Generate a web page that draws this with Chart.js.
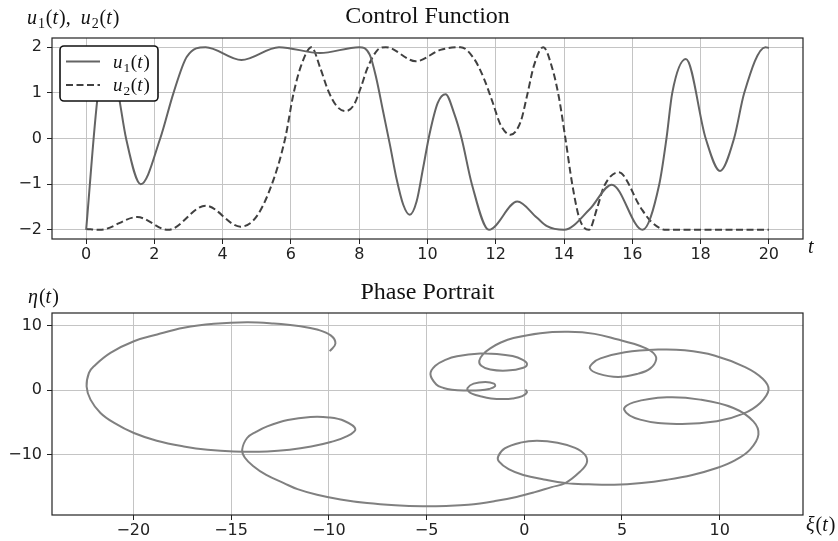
<!DOCTYPE html>
<html><head><meta charset="utf-8">
<script src="https://cdn.jsdelivr.net/npm/chart.js@4.4.0/dist/chart.umd.min.js"></script>
<style>
html,body{margin:0;padding:0;background:#fff;width:838px;height:541px;overflow:hidden}
#c1{position:absolute;left:0;top:0}
#c2{position:absolute;left:0;top:270px}
</style></head><body>
<canvas id="c1" width="838" height="270"></canvas>
<canvas id="c2" width="838" height="271"></canvas>
<script>
// ---- data ----
const u1T = [0, 0.35, 0.65, 0.94, 1.17, 1.6, 2.17, 2.56, 2.95, 3.5, 4.55, 5.65, 6.85, 8.0, 8.31, 8.5, 8.7, 8.9, 9.09, 9.29, 9.48, 9.68, 9.87, 10.06, 10.3, 10.53, 10.78, 11.0, 11.3, 11.8, 12.63, 13.2, 13.5, 14.0, 14.75, 15.4, 16.3, 16.79, 17.0, 17.17, 17.57, 18.15, 18.57, 18.98, 19.28, 19.9, 20.0];
const u1 = [-2, 1.0, 2.0, 1.0, 0, -1.0, 0, 1.0, 1.79, 2.0, 1.72, 2.0, 1.87, 2.0, 1.83, 1.32, 0.59, -0.14, -0.87, -1.45, -1.67, -1.38, -0.65, 0.1, 0.78, 0.97, 0.55, 0, -1.0, -2.0, -1.38, -1.73, -1.92, -2.0, -1.55, -1.01, -2.0, -1.0, 0, 1.0, 1.74, 0, -0.71, 0, 1.0, 2.0, 1.98];
const u2T = [0, 0.4, 1.5, 2.4, 3.5, 4.52, 5.0, 5.49, 5.83, 6.08, 6.3, 6.6, 6.86, 7.1, 7.35, 7.6, 7.84, 8.04, 8.24, 8.54, 8.78, 9.66, 10.38, 10.97, 11.36, 11.65, 11.9, 12.14, 12.43, 12.73, 12.92, 13.12, 13.39, 13.65, 13.85, 14.04, 14.24, 14.45, 14.73, 14.97, 15.17, 15.6, 16.25, 16.54, 16.98, 20.0];
const u2 = [-1.98, -2.0, -1.72, -2.0, -1.47, -1.93, -1.7, -0.9, 0, 1.0, 1.6, 2.0, 1.54, 1.03, 0.7, 0.6, 0.73, 1.1, 1.54, 1.94, 2.0, 1.69, 1.94, 2.0, 1.75, 1.32, 0.81, 0.3, 0.08, 0.37, 0.95, 1.6, 2.0, 1.55, 0.9, 0, -1.0, -1.75, -2.0, -1.52, -1.05, -0.74, -1.52, -1.81, -2.0, -2.0];
const xiVals = [0.05, 0.14, -0.1, -0.6, -1.06, -1.7, -2.25, -2.65, -2.85, -2.9, -2.59, -1.99, -1.55, -1.5, -1.8, -2.25, -3.1, -3.7, -4.13, -4.5, -4.8, -4.55, -4.0, -3.44, -2.25, -1.4, -0.6, -0.1, 0.14, -0.05, -0.88, -1.74, -2.2, -2.3, -2.1, -1.74, -1.2, -0.55, 0.82, 2.25, 3.6, 4.8, 5.6, 6.17, 6.6, 6.75, 6.45, 5.83, 4.8, 3.78, 3.36, 3.5, 3.9, 5.15, 6.85, 8.21, 9.72, 11.3, 12.2, 12.5, 12.07, 11.21, 9.85, 7.8, 5.93, 5.11, 5.59, 7.3, 9.0, 10.7, 11.72, 11.98, 11.55, 10.8, 9.85, 8.6, 7.3, 6.0, 4.6, 3.3, 2.1, 1.0, -0.05, -0.8, -1.3, -1.33, -1.0, -0.2, 0.65, 1.7, 2.6, 3.1, 3.2, 2.85, 2.1, 1.4, 0.5, -0.4, -1.5, -2.86, -4.0, -5.2, -6.6, -8.04, -9.4, -10.6, -11.6, -12.3, -13.2, -13.84, -14.3, -14.43, -14.18, -13.7, -13.15, -12.1, -10.94, -10.0, -9.2, -8.64, -9.06, -9.9, -10.9, -12.0, -13.15, -14.86, -16.2, -17.42, -18.8, -19.97, -21.0, -21.68, -22.19, -22.39, -22.27, -22.02, -21.17, -19.97, -18.78, -17.42, -15.88, -14.18, -12.82, -11.45, -10.6, -9.9, -9.66, -9.95];
const etaVals = [0.1, -0.3, -0.9, -1.25, -1.34, -1.25, -0.92, -0.55, -0.15, 0.37, 1.04, 1.3, 1.05, 0.6, 0.2, 0.0, -0.02, 0.1, 0.37, 0.9, 2.5, 3.8, 4.75, 5.27, 5.69, 5.64, 5.3, 4.75, 4.1, 3.5, 3.05, 3.21, 3.8, 4.6, 5.6, 6.5, 7.4, 8.1, 8.85, 9.05, 8.74, 7.86, 7.2, 6.57, 5.8, 4.8, 3.4, 2.59, 2.07, 2.59, 3.4, 4.2, 4.95, 5.9, 6.31, 6.2, 5.4, 3.6, 1.8, 0.1, -1.95, -3.61, -4.8, -5.2, -4.54, -2.99, -1.86, -1.08, -1.44, -2.73, -4.8, -6.87, -9.19, -10.8, -12.03, -13.1, -13.84, -14.35, -14.62, -14.55, -14.36, -13.8, -13.1, -12.2, -11.0, -10.2, -9.0, -8.1, -7.8, -8.1, -8.9, -9.97, -11.2, -12.6, -14.36, -14.98, -15.8, -16.5, -17.15, -17.72, -17.9, -17.95, -17.8, -17.46, -16.9, -16.17, -15.3, -14.36, -13.1, -11.78, -10.4, -9.19, -7.38, -6.4, -5.58, -4.6, -4.13, -4.2, -4.75, -6.0, -7.1, -8.0, -8.7, -9.2, -9.46, -9.46, -9.2, -8.68, -7.8, -6.61, -5.0, -3.5, -1.44, 0.62, 2.7, 3.72, 5.8, 7.6, 8.64, 9.67, 10.29, 10.55, 10.35, 9.92, 9.41, 8.5, 7.24, 6.05];
const ctrlXTicks = [0, 2, 4, 6, 8, 10, 12, 14, 16, 18, 20];
const ctrlYTicks = [-2, -1, 0, 1, 2];
const phaseXTicks = [-20, -15, -10, -5, 0, 5, 10];
const phaseYTicks = [-10, 0, 10];

// ---- helpers ----
const fmt = v => (v < 0 ? '\u2212' + Math.abs(v) : String(v));
const SERIF = '"Liberation Serif", "DejaVu Serif", serif';
function mathText(ctx, x, y, parts, size) {
  let cx = x;
  for (const [t, st] of parts) {
    const fs = st === 's' ? size * 0.7 : size;
    ctx.font = (st === 'i' ? 'italic ' : '') + fs + 'px ' + SERIF;
    const dy = st === 's' ? size * 0.22 : 0;
    ctx.fillText(t, cx, y + dy);
    cx += ctx.measureText(t).width + (st === 'i' ? size * 0.05 : 0) + (st === 's' ? size * 0.04 : 0);
  }
}
function axis(min, max, ticks, fit, isX) {
  return {
    type: 'linear', min, max,
    afterBuildTicks: s => { s.ticks = ticks.map(v => ({ value: v })); },
    afterFit: s => { if (isX) s.height = fit; else s.width = fit; },
    grid: { color: '#c4c4c4', lineWidth: 1, tickLength: 5, tickColor: '#222', drawTicks: true },
    border: { display: false },
    ticks: { font: { family: 'DejaVu Sans', size: 16 }, color: '#222', padding: isX ? 1 : 5,
             maxRotation: 0, autoSkip: false, callback: v => fmt(v) }
  };
}
function decorPlugin(draw) {
  return { id: 'decor', afterDraw(chart) {
    const ctx = chart.ctx, a = chart.chartArea;
    ctx.save();
    ctx.strokeStyle = '#222'; ctx.lineWidth = 1.2;
    ctx.strokeRect(a.left, a.top, a.right - a.left, a.bottom - a.top);
    ctx.fillStyle = '#111'; ctx.textBaseline = 'alphabetic'; ctx.textAlign = 'left';
    draw(ctx, a, chart);
    ctx.restore();
  } };
}

// ---- Control Function ----
new Chart(document.getElementById('c1'), {
  type: 'line',
  data: { datasets: [
    { label: 'u1(t)', data: u1T.map((t, i) => ({ x: t, y: u1[i] })), borderColor: '#646464',
      borderWidth: 2, pointRadius: 0, cubicInterpolationMode: 'monotone', fill: false },
    { label: 'u2(t)', data: u2T.map((t, i) => ({ x: t, y: u2[i] })), borderColor: '#404040',
      borderWidth: 2, borderDash: [7, 3.5], pointRadius: 0, cubicInterpolationMode: 'monotone', fill: false }
  ] },
  options: {
    responsive: false, animation: false, devicePixelRatio: 1,
    layout: { padding: { left: 0, right: 35, top: 38, bottom: 0 } },
    plugins: { legend: { display: false }, tooltip: { enabled: false } },
    scales: { x: axis(-1, 21, ctrlXTicks, 31, true), y: axis(-2.2, 2.2, ctrlYTicks, 52, false) }
  },
  plugins: [decorPlugin((ctx, a, chart) => {
    ctx.font = '24px ' + SERIF; ctx.textAlign = 'center';
    ctx.fillText('Control Function', (a.left + a.right) / 2, 23);
    ctx.textAlign = 'left';
    mathText(ctx, 27, 24, [['u', 'i'], ['1', 's'], ['(', 'r'], ['t', 'i'], ['),', 'r'], ['\u2002', 'r'], ['u', 'i'], ['2', 's'], ['(', 'r'], ['t', 'i'], [')', 'r']], 20);
    mathText(ctx, 808, 253, [['t', 'i']], 20);
    // legend
    const lx = 60, ly = 46, lw = 98, lh = 55, r = 4;
    ctx.beginPath();
    ctx.moveTo(lx + r, ly); ctx.arcTo(lx + lw, ly, lx + lw, ly + lh, r); ctx.arcTo(lx + lw, ly + lh, lx, ly + lh, r);
    ctx.arcTo(lx, ly + lh, lx, ly, r); ctx.arcTo(lx, ly, lx + lw, ly, r); ctx.closePath();
    ctx.fillStyle = '#fff'; ctx.fill(); ctx.strokeStyle = '#111'; ctx.lineWidth = 1.6; ctx.stroke();
    const rows = [61.5, 85];
    chart.data.datasets.forEach((ds, i) => {
      ctx.beginPath(); ctx.strokeStyle = ds.borderColor; ctx.lineWidth = ds.borderWidth;
      ctx.setLineDash(ds.borderDash || []); ctx.moveTo(66, rows[i]); ctx.lineTo(100, rows[i]); ctx.stroke();
      ctx.setLineDash([]);
      ctx.fillStyle = '#111';
      mathText(ctx, 113, rows[i] + 6, [['u', 'i'], [String(i + 1), 's'], ['(', 'r'], ['t', 'i'], [')', 'r']], 19);
    });
  })]
});

// ---- Phase Portrait ----
new Chart(document.getElementById('c2'), {
  type: 'line',
  data: { datasets: [
    { label: 'phase', data: xiVals.map((x, i) => ({ x, y: etaVals[i] })), borderColor: '#808080',
      borderWidth: 2, pointRadius: 0, tension: 0.4, fill: false }
  ] },
  options: {
    responsive: false, animation: false, devicePixelRatio: 1,
    layout: { padding: { left: 0, right: 35, top: 43, bottom: 0 } },
    plugins: { legend: { display: false }, tooltip: { enabled: false } },
    scales: { x: axis(-24.16, 14.26, phaseXTicks, 26, true), y: axis(-19.3, 11.97, phaseYTicks, 52, false) }
  },
  plugins: [decorPlugin((ctx, a) => {
    ctx.font = '24px ' + SERIF; ctx.textAlign = 'center';
    ctx.fillText('Phase Portrait', (a.left + a.right) / 2, 29);
    ctx.textAlign = 'left';
    mathText(ctx, 28, 33, [['\u03b7', 'i'], ['(', 'r'], ['t', 'i'], [')', 'r']], 20);
    mathText(ctx, 806, 261, [['\u03be', 'i'], ['(', 'r'], ['t', 'i'], [')', 'r']], 20);
  })]
});
</script>
</body></html>
